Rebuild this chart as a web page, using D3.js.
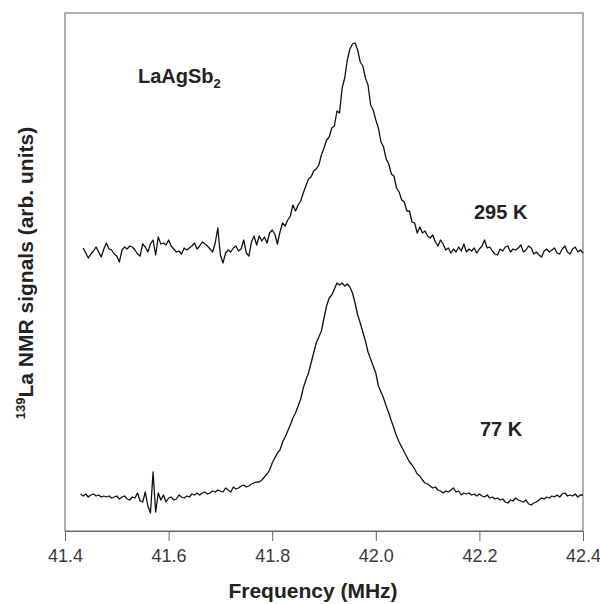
<!DOCTYPE html>
<html><head><meta charset="utf-8">
<script src="https://cdn.jsdelivr.net/npm/d3@7"></script>
<style>body{margin:0;background:#fff}</style>
</head><body>
<svg id="c" width="600" height="604"></svg>
<script>
// ---- data ----
const xTicks = [41.4, 41.6, 41.8, 42.0, 42.2, 42.4];
const freqStep = 0.005;           // MHz between samples
const start295 = 41.435;          // first frequency of the 295 K trace
const start77 = 41.430;           // first frequency of the 77 K trace
// signal, arb. units (295 K trace shown with vertical offset as in the figure)
const signal295 = [
  283,278,273,277,280,284,279,274,282,288,
  282,281,277,275,269,281,284,282,285,284,
  281,277,275,287,284,279,287,291,276,294,
  287,288,286,291,285,282,279,280,277,283,
  281,283,285,288,282,285,289,287,285,282,
  279,288,303,276,268,278,281,279,283,285,
  280,282,291,278,275,289,295,286,295,290,
  294,288,298,301,297,287,299,308,305,311,
  315,326,320,326,330,338,345,352,354,360,
  362,366,376,383,391,394,403,405,420,418,
  443,453,471,482,487,488,481,469,465,453,
  446,426,421,411,403,389,384,372,367,357,
  355,343,339,331,329,320,320,309,308,298,
  304,298,300,295,293,296,289,285,291,287,
  281,283,278,282,279,284,280,287,279,282,
  280,283,278,282,285,291,283,284,280,277,
  276,282,280,284,285,279,282,281,283,286,
  279,281,285,283,277,279,276,274,280,282,
  279,281,283,278,277,282,285,279,277,282,
  284,279,281,278
];
const signal77 = [
  37,35,37,34,36,37,35,36,34,35,
  34,35,33,34,35,32,34,35,32,31,
  34,33,38,30,29,39,25,18,59,19,
  38,31,36,29,33,34,31,32,36,34,
  33,35,34,37,36,38,36,38,39,37,
  38,40,39,41,40,39,43,41,39,44,
  42,43,45,46,44,45,47,48,49,49,
  51,54,57,61,68,73,78,81,89,94,
  100,106,113,118,125,132,143,151,158,168,
  178,188,194,200,213,225,233,236,242,248,
  246,248,245,247,244,238,228,216,208,199,
  190,179,172,165,158,145,139,133,125,118,
  110,103,95,89,84,79,74,69,66,62,
  57,55,51,48,47,45,43,44,41,40,
  38,40,39,41,43,39,40,36,38,37,
  38,36,37,35,37,35,34,36,33,34,
  32,33,31,32,29,28,31,30,33,31,
  30,29,31,27,26,28,29,31,33,32,
  34,33,35,34,36,34,37,38,35,36,
  35,37,34,36,36
];
const seriesLabels = ["295 K", "77 K"];
const sampleName = "LaAgSb";
const sampleSub = "2";
const xTitle = "Frequency (MHz)";
const yTitleSup = "139";
const yTitle = "La NMR signals (arb. units)";

// ---- drawing ----
const FONT = "'Liberation Sans', Arial, Helvetica, sans-serif";
const svg = d3.select("#c");
const L = 65, R = 583, T = 13, B = 531;
const x = d3.scaleLinear().domain([41.4, 42.4]).range([L, R]);
const y = d3.scaleLinear().domain([0, 518]).range([B, T]);

const toPts = (start, arr) => arr.map((v, i) => [start + i * freqStep, v]);
const line = d3.line().x(d => x(d[0])).y(d => y(d[1]));

// frame
svg.append("rect").attr("x", L).attr("y", T).attr("width", R - L).attr("height", B - T)
  .attr("fill", "none").attr("stroke", "#666").attr("stroke-width", 1);

// x axis
const ax = svg.append("g").attr("transform", `translate(0,${B})`)
  .call(d3.axisBottom(x).tickValues(xTicks).tickFormat(d3.format(".1f"))
    .tickSize(10).tickSizeOuter(0).tickPadding(8));
ax.select(".domain").attr("stroke", "#666");
ax.selectAll(".tick line").attr("stroke", "#666");
ax.selectAll(".tick text").attr("font-family", FONT).attr("font-size", 18).attr("fill", "#3a3a3a");

// curves
[[start295, signal295], [start77, signal77]].forEach(([s, arr]) => {
  svg.append("path").datum(toPts(s, arr)).attr("d", line)
    .attr("fill", "none").attr("stroke", "#111").attr("stroke-width", 1.3)
    .attr("stroke-linejoin", "round");
});

// labels
const bold = sel => sel.attr("font-family", FONT).attr("font-weight", "bold").attr("fill", "#222");
const t1 = svg.append("text").attr("x", 138).attr("y", 83).attr("font-size", 20).call(bold);
t1.append("tspan").text(sampleName);
t1.append("tspan").attr("font-size", 13).attr("dy", 5).text(sampleSub);

svg.append("text").attr("x", 474).attr("y", 219).attr("font-size", 20).call(bold).text(seriesLabels[0]);
svg.append("text").attr("x", 480).attr("y", 436).attr("font-size", 20).call(bold).text(seriesLabels[1]);

svg.append("text").attr("x", (L + R) / 2 - 11).attr("y", 598).attr("text-anchor", "middle")
  .attr("font-size", 21).call(bold).text(xTitle);

const yt = svg.append("text").attr("transform", "translate(33,273) rotate(-90)")
  .attr("text-anchor", "middle").attr("font-size", 21).call(bold);
yt.append("tspan").attr("font-size", 13).attr("dy", -8).text(yTitleSup);
yt.append("tspan").attr("dy", 8).text(yTitle);
</script>
</body></html>
